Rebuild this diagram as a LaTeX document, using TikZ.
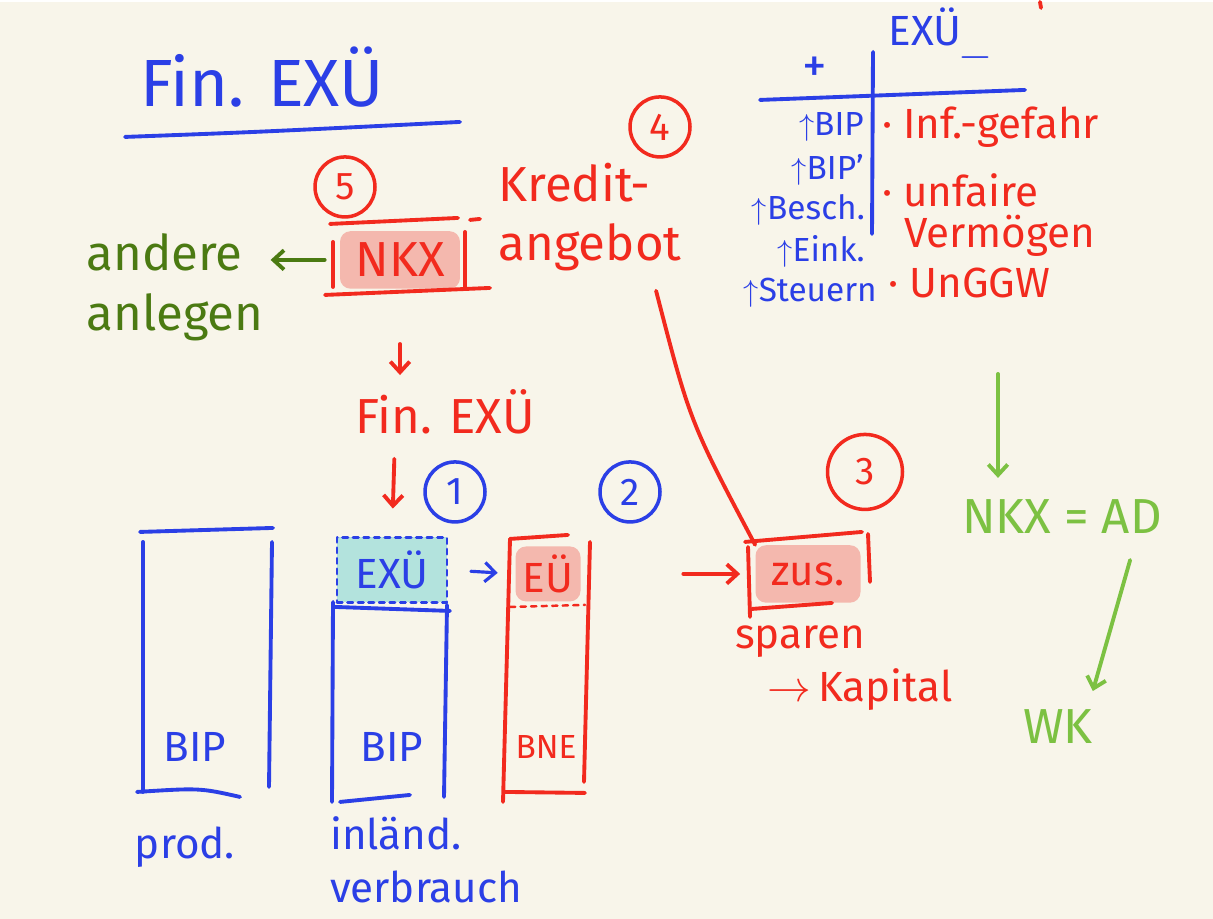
\documentclass[tikz,border=0pt]{standalone}
\usepackage{fontspec}
\setmainfont{Fira Sans}
\usetikzlibrary{arrows.meta,positioning}
\definecolor{paper}{HTML}{F8F5EA}
\definecolor{penblue}{HTML}{2B3FE6}
\definecolor{penred}{HTML}{F22A1E}
\definecolor{pendkgreen}{HTML}{4B7A12}
\definecolor{pengreen}{HTML}{7CC142}
\definecolor{markpink}{HTML}{F4B8AE}
\definecolor{markcyan}{HTML}{B3E3DD}
\begin{document}
\begin{tikzpicture}[x=0.02cm,y=-0.02cm, line cap=round, line join=round,
  pen/.style={line width=2.2pt},
  txt/.style={inner sep=1pt, font=\fontsize{24}{30}\selectfont},
  small/.style={inner sep=0.5pt, font=\fontsize{19}{22}\selectfont},
  big/.style={inner sep=1pt, font=\fontsize{28}{34}\selectfont},
  num/.style={circle, draw, line width=2pt, minimum size=1.2cm, inner sep=0pt, font=\fontsize{22}{24}\selectfont},
  arr/.style={pen, -{Straight Barb[length=6pt,width=11pt]}}]
    \fill[paper] (0,0) rectangle (1213,917);

    % title
    \node[penblue, inner sep=1pt, font=\fontsize{38}{42}\selectfont] (title) at (262,75) {Fin. EXÜ};
    \draw[pen, penblue] (125,135) .. controls (260,130) .. (460,120);

    % NKX
    \node[big, penred, fill=markpink, rounded corners=6pt, minimum width=2.4cm, minimum height=1.15cm] (nkx) at (400,258) {NKX};
    \draw[pen, penred] (330,222) -- (458,216);
    \draw[pen, penred] (470,218) -- (480,217);
    \draw[pen, penred] (325,293) -- (490,286);
    \draw[pen, penred] (333,240) -- (333,285);
    \draw[pen, penred] (465,230) -- (465,285);
    \node[num, penred] (n5) at (345,185) {5};

    \node[big, pendkgreen, align=left] (anlegen) at (175,285) {andere\\anlegen};
    \draw[arr, pendkgreen, shorten <=0.3cm, shorten >=0.1cm] (nkx.west) -- (nkx.west -| anlegen.east);

    % Kreditangebot
    \node[big, penred, align=left] (kredit) at (590,215) {Kredit-\\angebot};
    \node[num, penred] (n4) at (660,125) {4};

    \node[big, penred] (finexu) at (445,410) {Fin. EXÜ};
    \draw[arr, penred, shorten <=1.1cm, shorten >=0.25cm] (nkx.south) -- (nkx.south |- finexu.north);

    % columns
    \node[txt, penblue, fill=markcyan, draw, dashed, line width=1.6pt, minimum width=2.2cm, minimum height=1.3cm] (exu) at (392,568) {EXÜ};
    \draw[arr, penred, shorten <=0.45cm, shorten >=0.55cm] ([xshift=-1cm]finexu.south) -- (exu.north);
    \node[num, penblue] (n1) at (455,490) {1};
    \node[num, penblue] (n2) at (630,490) {2};

    \draw[pen, penblue] (140,530) -- (273,526);
    \draw[pen, penblue] (143,540) -- (143,790);
    \draw[pen, penblue] (272,540) -- (269,785);
    \draw[pen, penblue] (137,790) .. controls (200,786) .. (240,795);
    \node[txt, penblue] (bip1) at (195,745) {BIP};

    \draw[pen, penblue] (335,605) -- (450,609);
    \draw[pen, penblue] (333,600) -- (332,800);
    \draw[pen, penblue] (447,603) -- (444,795);
    \draw[pen, penblue] (340,800) -- (410,793);
    \node[txt, penblue] (bip2) at (392,745) {BIP};

    \node[txt, penred, fill=markpink, rounded corners=6pt, minimum width=1.3cm, minimum height=1.1cm] (eu) at (548,572) {EÜ};
    \draw[pen, penred] (510,537) -- (568,533);
    \draw[pen, penred] (510,537) -- (503,800);
    \draw[pen, penred] (590,540) -- (584,780);
    \draw[penred, line width=1.4pt, dashed] (510,605) -- (585,603);
    \draw[pen, penred] (505,790) -- (585,791);
    \node[small, penred] (bne) at (546,745) {BNE};
    \draw[arr, penblue, line width=1.8pt, shorten <=0.45cm, shorten >=0.35cm] (exu.east) -- (eu.west);

    % zusaetzliches Sparen
    \node[txt, penred, fill=markpink, rounded corners=6pt, minimum width=2.1cm, minimum height=1.15cm] (zus) at (808,572) {zus.};
    \draw[pen, penred] (745,540) -- (862,530);
    \draw[pen, penred] (752,607) -- (832,601);
    \draw[pen, penred] (748,545) -- (750,615);
    \draw[pen, penred] (868,532) -- (870,580);
    \node[num, penred, minimum size=1.5cm] (n3) at (865,470) {3};
    \draw[arr, penred, shorten <=2.05cm, shorten >=0.3cm] (eu.east) -- (zus.west);
    \draw[pen, penred] ([xshift=-0.55cm, yshift=-0.35cm]kredit.south east) .. controls (690,420) .. (zus.north west);
    \node[txt, penred] (sparen) at (800,640) {sparen};
    \node[txt, penred] (kapital) at (860,688) {$\rightarrow$\,Kapital};

    % Tabelle
    \node[txt, penblue] (tabexu) at (925,25) {EXÜ};
    \node[big, penblue] (plus) at (815,68) {+};
    \node[big, penblue] (minus) at (975,56) {$-$};
    \draw[pen, penblue] (873,50) -- (872,232);
    \draw[pen, penblue] (760,98) -- (1025,88);
    \node[small, penblue, anchor=east] (up1) at (865,125) {$\uparrow$BIP};
    \node[small, penblue, anchor=east] (up2) at (865,168) {$\uparrow$BIP'};
    \node[small, penblue, anchor=east] (up3) at (866,208) {$\uparrow$Besch.};
    \node[small, penblue, anchor=east] (up4) at (866,250) {$\uparrow$Eink.};
    \node[small, penblue, anchor=east] (up5) at (878,291) {$\uparrow$Steuern};
    \node[txt, penred, anchor=west] (neg1) at (880,125) {· Inf.-gefahr};
    \node[txt, penred, anchor=west] (neg2) at (880,188) {· unfaire};
    \node[txt, penred, anchor=west] (neg3) at (902,234) {Vermögen};
    \node[txt, penred, anchor=west] (neg4) at (886,281) {· UnGGW};
    \draw[pen, penred] (1040,0) -- (1041,6);

    % NKX = AD -> WK
    \coordinate (gtop) at (998,372);
    \node[big, pengreen] (nkxad) at (1062,515) {NKX = AD};
    \node[big, pengreen] (wk) at (1058,725) {WK};
    \draw[arr, pengreen, shorten >=0.4cm] (gtop) -- (gtop |- nkxad.north);
    \draw[arr, pengreen, shorten <=0.5cm, shorten >=0.35cm] ([xshift=1.5cm]nkxad.south) -- ([xshift=0.6cm]wk.north);

    % unten
    \node[txt, penblue] (prod) at (185,845) {prod.};
    \node[txt, penblue, align=left, anchor=west] (verbrauch) at (328,858) {inländ.\\verbrauch};
\end{tikzpicture}
\end{document}
